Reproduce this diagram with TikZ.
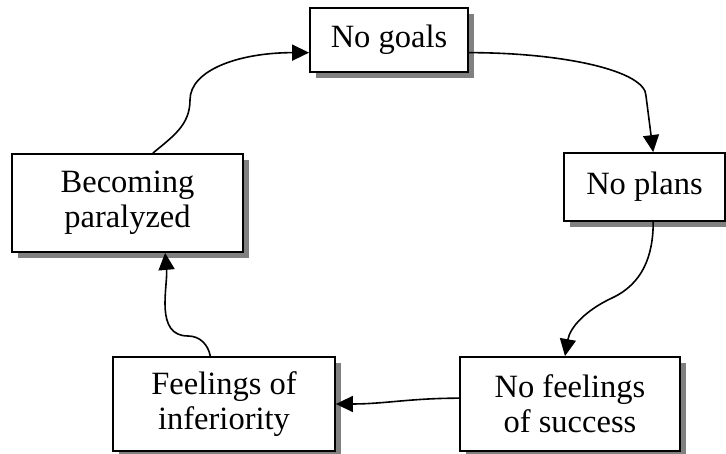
\documentclass[tikz,border=0pt]{standalone}
\usepackage{fontspec}
\setmainfont{Liberation Serif}
\usetikzlibrary{arrows.meta}
\usetikzlibrary{shadows}

\begin{document}
\begin{tikzpicture}[x=1pt, y=1pt,
    stage/.style={draw, line width=1.8pt, fill=white, align=center, inner sep=0pt, font=\fontsize{32.5}{35}\selectfont, drop shadow={shadow xshift=6pt, shadow yshift=-6pt, fill=black!50, opacity=1}},
    flow/.style={line width=1.6pt, -{Triangle[length=17pt, width=16pt]}}]
    \useasboundingbox (0, 0) rectangle (726, 454);

    \node [stage, minimum width=158pt, minimum height=64pt] (goals) at (389, 414) {No goals};
    \node [stage, minimum width=161pt, minimum height=68pt] (plans) at (644.5, 267) {No plans};
    \node [stage, minimum width=220pt, minimum height=94pt] (success) at (570, 50) {No feelings\\of success};
    \node [stage, minimum width=222pt, minimum height=94pt] (inferiority) at (224, 50) {Feelings of\\inferiority};
    \node [stage, minimum width=231pt, minimum height=98pt] (paralyzed) at (127.5, 251) {Becoming\\paralyzed};

    % bends of the curved arrows
    \coordinate (k1) at (190, 354);
    \coordinate (k2) at (646, 358);
    \coordinate (k3) at (612, 156);
    \coordinate (k5) at (188, 118);

    \draw [flow] (paralyzed.63) to [out=40, in=-90] (k1) .. controls +(0, 30) and +(-70, 0) .. (goals.189);
    \draw [flow] (goals.-9) .. controls +(95, 0) and +(0, 25) .. (k2) -- (plans.76);
    \draw [flow] (plans.-76) to [out=-90, in=25] (k3) to [out=205, in=80] (success.96);
    \draw [flow] (success.177) to [out=180, in=0] (inferiority.east);
    \draw [flow] (inferiority.106) to [out=100, in=0] (k5) to [out=180, in=-85] (paralyzed.-53);
  \end{tikzpicture}
\end{document}
